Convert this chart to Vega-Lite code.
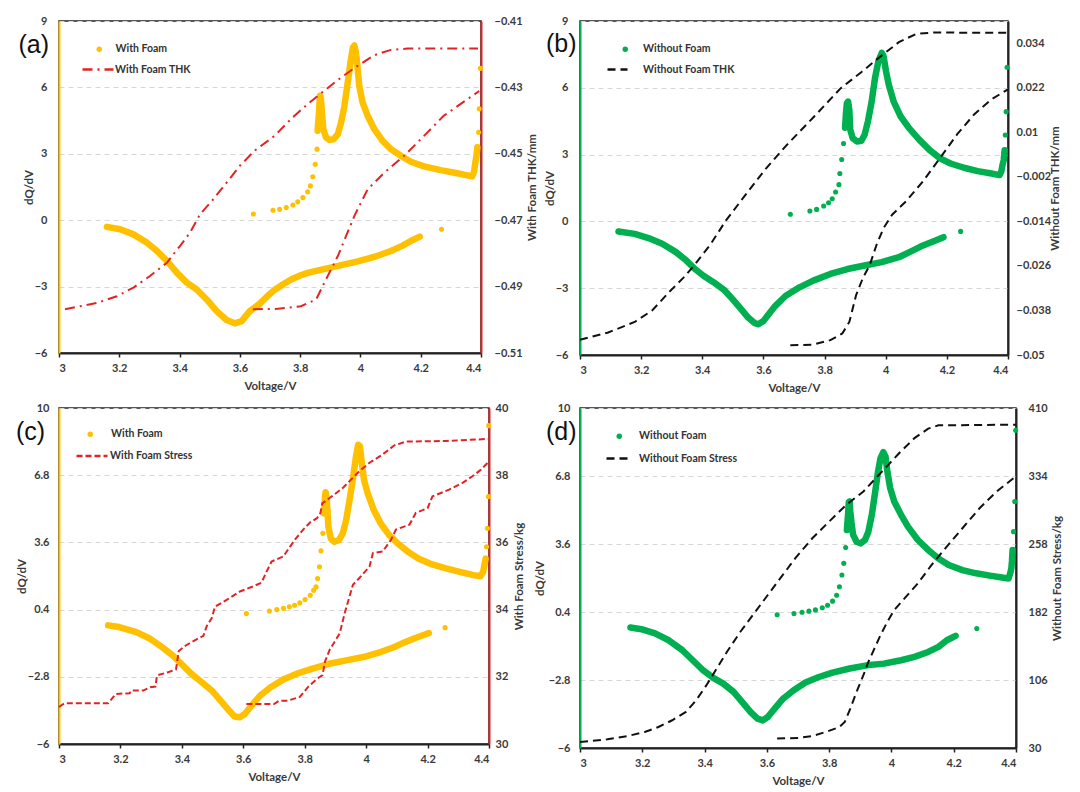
{
"$schema": "https://vega.github.io/schema/vega-lite/v6.json",
"padding": {"left": 15, "top": 14, "right": 5, "bottom": 5},
"background": "white",
"config": {
  "font": "Lato",
  "view": {"stroke": "#222", "strokeWidth": 1.5},
  "axis": {"labelFont": "Lato", "labelFontWeight": "bold", "labelFontSize": 11, "labelColor": "#3a3a3a", "titleFont": "Lato", "titleFontWeight": "bold", "titleFontSize": 11.5, "titleColor": "#3a3a3a", "ticks": false, "domainWidth": 2, "gridDash": [5, 4], "gridColor": "#d6d6d6", "gridWidth": 1},
  "legend": {"labelFont": "Lato", "labelFontWeight": "bold", "labelFontSize": 10.5, "labelColor": "#333", "padding": 0, "title": null},
  "title": {"font": "Liberation Sans", "fontSize": 25, "fontWeight": "normal", "color": "#111", "anchor": "start", "frame": "group", "orient": "top", "offset": 0, "baseline": "middle"}
},
"datasets": {
  "wfA": [
    {"V":3.645,"q":0.28,"br":"sparse"},{"V":3.71,"q":0.45,"br":"sparse"},{"V":3.732,"q":0.49,"br":"sparse"},{"V":3.754,"q":0.57,"br":"sparse"},{"V":3.776,"q":0.69,"br":"sparse"},{"V":3.792,"q":0.83,"br":"sparse"},{"V":3.809,"q":1.02,"br":"sparse"},{"V":3.825,"q":1.28,"br":"sparse"},{"V":3.834,"q":1.55,"br":"sparse"},{"V":3.842,"q":1.96,"br":"sparse"},{"V":3.85,"q":2.53,"br":"sparse"},{"V":3.856,"q":3.21,"br":"sparse"},
    {"V":3.858,"q":4.04,"br":"c"},{"V":3.862,"q":4.75,"br":"c"},{"V":3.864,"q":5.25,"br":"c"},{"V":3.866,"q":5.62,"br":"c"},{"V":3.869,"q":5.47,"br":"c"},{"V":3.873,"q":4.72,"br":"c"},{"V":3.877,"q":4.11,"br":"c"},{"V":3.886,"q":3.74,"br":"c"},{"V":3.897,"q":3.63,"br":"c"},{"V":3.911,"q":3.66,"br":"c"},{"V":3.925,"q":3.89,"br":"c"},{"V":3.936,"q":4.42,"br":"c"},{"V":3.947,"q":5.17,"br":"c"},{"V":3.958,"q":6.23,"br":"c"},{"V":3.967,"q":7.13,"br":"c"},{"V":3.975,"q":7.81,"br":"c"},{"V":3.98,"q":7.89,"br":"c"},{"V":3.985,"q":7.58,"br":"c"},{"V":3.991,"q":6.83,"br":"c"},{"V":3.996,"q":6.08,"br":"c"},{"V":4.007,"q":5.32,"br":"c"},{"V":4.024,"q":4.72,"br":"c"},{"V":4.046,"q":4.11,"br":"c"},{"V":4.073,"q":3.59,"br":"c"},{"V":4.101,"q":3.21,"br":"c"},{"V":4.134,"q":2.91,"br":"c"},{"V":4.167,"q":2.64,"br":"c"},{"V":4.211,"q":2.43,"br":"c"},{"V":4.266,"q":2.26,"br":"c"},{"V":4.321,"q":2.12,"br":"c"},{"V":4.371,"q":1.98,"br":"c"},{"V":4.377,"q":2.2,"br":"c"},{"V":4.381,"q":2.58,"br":"c"},{"V":4.385,"q":2.9,"br":"c"},{"V":4.388,"q":3.3,"br":"c"},
    {"V":4.392,"q":3.97,"br":"sparse"},{"V":4.394,"q":5.03,"br":"sparse"},{"V":4.398,"q":6.86,"br":"sparse"},
    {"V":3.159,"q":-0.3,"br":"d"},{"V":3.203,"q":-0.41,"br":"d"},{"V":3.247,"q":-0.64,"br":"d"},{"V":3.291,"q":-1.01,"br":"d"},{"V":3.325,"q":-1.39,"br":"d"},{"V":3.358,"q":-1.84,"br":"d"},{"V":3.391,"q":-2.37,"br":"d"},{"V":3.424,"q":-2.82,"br":"d"},{"V":3.457,"q":-3.13,"br":"d"},{"V":3.49,"q":-3.58,"br":"d"},{"V":3.523,"q":-4.11,"br":"d"},{"V":3.556,"q":-4.51,"br":"d"},{"V":3.583,"q":-4.66,"br":"d"},{"V":3.606,"q":-4.56,"br":"d"},{"V":3.633,"q":-4.11,"br":"d"},{"V":3.665,"q":-3.78,"br":"d"},{"V":3.69,"q":-3.45,"br":"d"},{"V":3.715,"q":-3.15,"br":"d"},{"V":3.745,"q":-2.88,"br":"d"},{"V":3.77,"q":-2.68,"br":"d"},{"V":3.8,"q":-2.5,"br":"d"},{"V":3.825,"q":-2.38,"br":"d"},{"V":3.86,"q":-2.27,"br":"d"},{"V":3.897,"q":-2.15,"br":"d"},{"V":3.94,"q":-2.02,"br":"d"},{"V":3.991,"q":-1.86,"br":"d"},{"V":4.05,"q":-1.64,"br":"d"},{"V":4.101,"q":-1.39,"br":"d"},{"V":4.14,"q":-1.15,"br":"d"},{"V":4.167,"q":-0.94,"br":"d"},{"V":4.197,"q":-0.74,"br":"d"},
    {"V":4.269,"q":-0.41,"br":"sparse"}
  ],
  "thkA": [
    {"V":3.02,"t":-0.4968,"seg":"up"},{"V":3.082,"t":-0.4957,"seg":"up"},{"V":3.126,"t":-0.4949,"seg":"up"},{"V":3.192,"t":-0.4929,"seg":"up"},{"V":3.247,"t":-0.4903,"seg":"up"},{"V":3.302,"t":-0.4868,"seg":"up"},{"V":3.358,"t":-0.4828,"seg":"up"},{"V":3.402,"t":-0.4777,"seg":"up"},{"V":3.435,"t":-0.4737,"seg":"up"},{"V":3.468,"t":-0.4682,"seg":"up"},{"V":3.512,"t":-0.4637,"seg":"up"},{"V":3.556,"t":-0.4587,"seg":"up"},{"V":3.6,"t":-0.4536,"seg":"up"},{"V":3.65,"t":-0.449,"seg":"up"},{"V":3.715,"t":-0.4446,"seg":"up"},{"V":3.77,"t":-0.4395,"seg":"up"},{"V":3.825,"t":-0.435,"seg":"up"},{"V":3.88,"t":-0.431,"seg":"up"},{"V":3.936,"t":-0.427,"seg":"up"},{"V":3.991,"t":-0.4235,"seg":"up"},{"V":4.046,"t":-0.4203,"seg":"up"},{"V":4.101,"t":-0.4187,"seg":"up"},{"V":4.156,"t":-0.4183,"seg":"up"},{"V":4.39,"t":-0.4183,"seg":"up"},
    {"V":3.643,"t":-0.4968,"seg":"down"},{"V":3.726,"t":-0.4967,"seg":"down"},{"V":3.803,"t":-0.4959,"seg":"down"},{"V":3.853,"t":-0.4939,"seg":"down"},{"V":3.886,"t":-0.4878,"seg":"down"},{"V":3.925,"t":-0.4808,"seg":"down"},{"V":3.98,"t":-0.4687,"seg":"down"},{"V":4.024,"t":-0.4607,"seg":"down"},{"V":4.079,"t":-0.4557,"seg":"down"},{"V":4.145,"t":-0.4506,"seg":"down"},{"V":4.211,"t":-0.4446,"seg":"down"},{"V":4.277,"t":-0.4385,"seg":"down"},{"V":4.394,"t":-0.4311,"seg":"down"}
  ],
  "wofB": [
    {"V":3.688,"q":0.32,"br":"sparse"},{"V":3.752,"q":0.47,"br":"sparse"},{"V":3.774,"q":0.54,"br":"sparse"},{"V":3.797,"q":0.69,"br":"sparse"},{"V":3.813,"q":0.84,"br":"sparse"},{"V":3.825,"q":1.02,"br":"sparse"},{"V":3.836,"q":1.32,"br":"sparse"},{"V":3.847,"q":1.65,"br":"sparse"},{"V":3.85,"q":2.15,"br":"sparse"},{"V":3.856,"q":2.78,"br":"sparse"},{"V":3.862,"q":3.5,"br":"sparse"},
    {"V":3.867,"q":4.21,"br":"c"},{"V":3.87,"q":4.86,"br":"c"},{"V":3.873,"q":5.31,"br":"c"},{"V":3.877,"q":5.38,"br":"c"},{"V":3.881,"q":5.0,"br":"c"},{"V":3.884,"q":4.12,"br":"c"},{"V":3.892,"q":3.74,"br":"c"},{"V":3.906,"q":3.59,"br":"c"},{"V":3.92,"q":3.62,"br":"c"},{"V":3.931,"q":3.89,"br":"c"},{"V":3.942,"q":4.5,"br":"c"},{"V":3.954,"q":5.38,"br":"c"},{"V":3.965,"q":6.44,"br":"c"},{"V":3.976,"q":7.19,"br":"c"},{"V":3.987,"q":7.57,"br":"c"},{"V":3.993,"q":7.42,"br":"c"},{"V":4.001,"q":6.74,"br":"c"},{"V":4.01,"q":6.14,"br":"c"},{"V":4.026,"q":5.38,"br":"c"},{"V":4.049,"q":4.71,"br":"c"},{"V":4.077,"q":4.18,"br":"c"},{"V":4.111,"q":3.65,"br":"c"},{"V":4.144,"q":3.2,"br":"c"},{"V":4.178,"q":2.83,"br":"c"},{"V":4.212,"q":2.6,"br":"c"},{"V":4.256,"q":2.41,"br":"c"},{"V":4.301,"q":2.26,"br":"c"},{"V":4.346,"q":2.15,"br":"c"},{"V":4.372,"q":2.08,"br":"c"},{"V":4.378,"q":2.23,"br":"c"},{"V":4.382,"q":2.53,"br":"c"},{"V":4.386,"q":2.75,"br":"c"},{"V":4.389,"q":3.2,"br":"c"},
    {"V":4.391,"q":3.88,"br":"sparse"},{"V":4.394,"q":4.93,"br":"sparse"},{"V":4.397,"q":6.92,"br":"sparse"},
    {"V":3.126,"q":-0.45,"br":"d"},{"V":3.179,"q":-0.56,"br":"d"},{"V":3.224,"q":-0.75,"br":"d"},{"V":3.269,"q":-1.0,"br":"d"},{"V":3.314,"q":-1.38,"br":"d"},{"V":3.348,"q":-1.76,"br":"d"},{"V":3.376,"q":-2.14,"br":"d"},{"V":3.404,"q":-2.44,"br":"d"},{"V":3.438,"q":-2.74,"br":"d"},{"V":3.471,"q":-3.07,"br":"d"},{"V":3.499,"q":-3.49,"br":"d"},{"V":3.527,"q":-3.94,"br":"d"},{"V":3.55,"q":-4.32,"br":"d"},{"V":3.572,"q":-4.57,"br":"d"},{"V":3.583,"q":-4.62,"br":"d"},{"V":3.6,"q":-4.47,"br":"d"},{"V":3.617,"q":-4.17,"br":"d"},{"V":3.639,"q":-3.79,"br":"d"},{"V":3.673,"q":-3.34,"br":"d"},{"V":3.718,"q":-2.96,"br":"d"},{"V":3.763,"q":-2.66,"br":"d"},{"V":3.819,"q":-2.36,"br":"d"},{"V":3.875,"q":-2.14,"br":"d"},{"V":3.931,"q":-1.98,"br":"d"},{"V":3.987,"q":-1.83,"br":"d"},{"V":4.043,"q":-1.61,"br":"d"},{"V":4.088,"q":-1.31,"br":"d"},{"V":4.122,"q":-1.08,"br":"d"},{"V":4.155,"q":-0.9,"br":"d"},{"V":4.189,"q":-0.71,"br":"d"},
    {"V":4.245,"q":-0.45,"br":"sparse"}
  ],
  "thkB": [
    {"V":3.0,"t":-0.0459,"seg":"up"},{"V":3.09,"t":-0.044,"seg":"up"},{"V":3.179,"t":-0.0411,"seg":"up"},{"V":3.236,"t":-0.038,"seg":"up"},{"V":3.292,"t":-0.033,"seg":"up"},{"V":3.337,"t":-0.0293,"seg":"up"},{"V":3.37,"t":-0.0262,"seg":"up"},{"V":3.426,"t":-0.0203,"seg":"up"},{"V":3.477,"t":-0.0138,"seg":"up"},{"V":3.538,"t":-0.0072,"seg":"up"},{"V":3.606,"t":0.0,"seg":"up"},{"V":3.673,"t":0.0063,"seg":"up"},{"V":3.763,"t":0.014,"seg":"up"},{"V":3.853,"t":0.0219,"seg":"up"},{"V":3.92,"t":0.0262,"seg":"up"},{"V":3.976,"t":0.03,"seg":"up"},{"V":4.043,"t":0.0343,"seg":"up"},{"V":4.099,"t":0.0365,"seg":"up"},{"V":4.155,"t":0.0369,"seg":"up"},{"V":4.4,"t":0.0368,"seg":"up"},
    {"V":3.688,"t":-0.0474,"seg":"down"},{"V":3.763,"t":-0.0472,"seg":"down"},{"V":3.819,"t":-0.046,"seg":"down"},{"V":3.858,"t":-0.0442,"seg":"down"},{"V":3.881,"t":-0.0411,"seg":"down"},{"V":3.903,"t":-0.0339,"seg":"down"},{"V":3.925,"t":-0.0293,"seg":"down"},{"V":3.948,"t":-0.0257,"seg":"down"},{"V":3.97,"t":-0.0203,"seg":"down"},{"V":3.993,"t":-0.0158,"seg":"down"},{"V":4.021,"t":-0.0122,"seg":"down"},{"V":4.066,"t":-0.0086,"seg":"down"},{"V":4.122,"t":-0.0032,"seg":"down"},{"V":4.178,"t":0.0031,"seg":"down"},{"V":4.234,"t":0.0095,"seg":"down"},{"V":4.29,"t":0.0149,"seg":"down"},{"V":4.346,"t":0.0189,"seg":"down"},{"V":4.4,"t":0.0216,"seg":"down"}
  ],
  "wfC": [
    {"V":3.61,"q":0.21,"br":"sparse"},{"V":3.685,"q":0.33,"br":"sparse"},{"V":3.709,"q":0.4,"br":"sparse"},{"V":3.731,"q":0.46,"br":"sparse"},{"V":3.75,"q":0.53,"br":"sparse"},{"V":3.767,"q":0.61,"br":"sparse"},{"V":3.784,"q":0.72,"br":"sparse"},{"V":3.801,"q":0.88,"br":"sparse"},{"V":3.818,"q":1.08,"br":"sparse"},{"V":3.829,"q":1.32,"br":"sparse"},{"V":3.837,"q":1.48,"br":"sparse"},{"V":3.842,"q":1.88,"br":"sparse"},{"V":3.848,"q":2.44,"br":"sparse"},{"V":3.853,"q":3.2,"br":"sparse"},{"V":3.859,"q":4.03,"br":"sparse"},
    {"V":3.863,"q":4.98,"br":"c"},{"V":3.866,"q":5.78,"br":"c"},{"V":3.868,"q":5.99,"br":"c"},{"V":3.871,"q":5.78,"br":"c"},{"V":3.874,"q":5.14,"br":"c"},{"V":3.877,"q":4.35,"br":"c"},{"V":3.885,"q":3.79,"br":"c"},{"V":3.896,"q":3.63,"br":"c"},{"V":3.911,"q":3.71,"br":"c"},{"V":3.924,"q":4.03,"br":"c"},{"V":3.935,"q":4.67,"br":"c"},{"V":3.946,"q":5.62,"br":"c"},{"V":3.958,"q":6.74,"br":"c"},{"V":3.967,"q":7.69,"br":"c"},{"V":3.974,"q":8.25,"br":"c"},{"V":3.98,"q":8.17,"br":"c"},{"V":3.986,"q":7.37,"br":"c"},{"V":3.993,"q":6.58,"br":"c"},{"V":4.005,"q":5.94,"br":"c"},{"V":4.025,"q":5.14,"br":"c"},{"V":4.047,"q":4.51,"br":"c"},{"V":4.075,"q":3.95,"br":"c"},{"V":4.103,"q":3.55,"br":"c"},{"V":4.137,"q":3.15,"br":"c"},{"V":4.17,"q":2.83,"br":"c"},{"V":4.215,"q":2.55,"br":"c"},{"V":4.26,"q":2.36,"br":"c"},{"V":4.305,"q":2.2,"br":"c"},{"V":4.35,"q":2.04,"br":"c"},{"V":4.372,"q":1.99,"br":"c"},{"V":4.381,"q":2.2,"br":"c"},{"V":4.385,"q":2.52,"br":"c"},{"V":4.389,"q":2.83,"br":"c"},
    {"V":4.392,"q":3.39,"br":"sparse"},{"V":4.395,"q":4.27,"br":"sparse"},{"V":4.398,"q":5.78,"br":"sparse"},{"V":4.399,"q":9.16,"br":"sparse"},
    {"V":3.16,"q":-0.35,"br":"d"},{"V":3.196,"q":-0.43,"br":"d"},{"V":3.252,"q":-0.67,"br":"d"},{"V":3.297,"q":-0.99,"br":"d"},{"V":3.336,"q":-1.39,"br":"d"},{"V":3.37,"q":-1.78,"br":"d"},{"V":3.398,"q":-2.18,"br":"d"},{"V":3.431,"q":-2.66,"br":"d"},{"V":3.465,"q":-3.06,"br":"d"},{"V":3.498,"q":-3.46,"br":"d"},{"V":3.526,"q":-3.93,"br":"d"},{"V":3.549,"q":-4.33,"br":"d"},{"V":3.571,"q":-4.68,"br":"d"},{"V":3.588,"q":-4.73,"br":"d"},{"V":3.605,"q":-4.57,"br":"d"},{"V":3.627,"q":-4.17,"br":"d"},{"V":3.655,"q":-3.69,"br":"d"},{"V":3.689,"q":-3.3,"br":"d"},{"V":3.734,"q":-2.9,"br":"d"},{"V":3.778,"q":-2.63,"br":"d"},{"V":3.823,"q":-2.42,"br":"d"},{"V":3.879,"q":-2.18,"br":"d"},{"V":3.935,"q":-2.02,"br":"d"},{"V":3.991,"q":-1.86,"br":"d"},{"V":4.047,"q":-1.62,"br":"d"},{"V":4.092,"q":-1.38,"br":"d"},{"V":4.126,"q":-1.15,"br":"d"},{"V":4.16,"q":-0.95,"br":"d"},{"V":4.185,"q":-0.82,"br":"d"},{"V":4.204,"q":-0.72,"br":"d"},
    {"V":4.257,"q":-0.46,"br":"sparse"}
  ],
  "stC": [
    {"V":3.0,"s":31.1,"seg":"up"},{"V":3.017,"s":31.21,"seg":"up"},{"V":3.16,"s":31.21,"seg":"up"},{"V":3.185,"s":31.49,"seg":"up"},{"V":3.23,"s":31.51,"seg":"up"},{"V":3.235,"s":31.59,"seg":"up"},{"V":3.274,"s":31.59,"seg":"up"},{"V":3.297,"s":31.69,"seg":"up"},{"V":3.314,"s":31.71,"seg":"up"},{"V":3.319,"s":32.04,"seg":"up"},{"V":3.353,"s":32.13,"seg":"up"},{"V":3.381,"s":32.22,"seg":"up"},{"V":3.39,"s":32.77,"seg":"up"},{"V":3.414,"s":32.94,"seg":"up"},{"V":3.445,"s":33.1,"seg":"up"},{"V":3.47,"s":33.22,"seg":"up"},{"V":3.481,"s":33.51,"seg":"up"},{"V":3.497,"s":33.74,"seg":"up"},{"V":3.508,"s":34.09,"seg":"up"},{"V":3.546,"s":34.29,"seg":"up"},{"V":3.589,"s":34.54,"seg":"up"},{"V":3.632,"s":34.69,"seg":"up"},{"V":3.659,"s":34.8,"seg":"up"},{"V":3.676,"s":35.13,"seg":"up"},{"V":3.692,"s":35.43,"seg":"up"},{"V":3.73,"s":35.58,"seg":"up"},{"V":3.768,"s":36.08,"seg":"up"},{"V":3.795,"s":36.38,"seg":"up"},{"V":3.818,"s":36.6,"seg":"up"},{"V":3.84,"s":36.72,"seg":"up"},{"V":3.851,"s":36.87,"seg":"up"},{"V":3.857,"s":37.16,"seg":"up"},{"V":3.881,"s":37.32,"seg":"up"},{"V":3.924,"s":37.62,"seg":"up"},{"V":3.978,"s":38.12,"seg":"up"},{"V":4.011,"s":38.37,"seg":"up"},{"V":4.054,"s":38.62,"seg":"up"},{"V":4.092,"s":38.89,"seg":"up"},{"V":4.13,"s":39.0,"seg":"up"},{"V":4.26,"s":39.02,"seg":"up"},{"V":4.4,"s":39.08,"seg":"up"},
    {"V":3.61,"s":31.19,"seg":"down"},{"V":3.7,"s":31.19,"seg":"down"},{"V":3.717,"s":31.29,"seg":"down"},{"V":3.745,"s":31.29,"seg":"down"},{"V":3.784,"s":31.4,"seg":"down"},{"V":3.811,"s":31.7,"seg":"down"},{"V":3.84,"s":31.94,"seg":"down"},{"V":3.858,"s":32.05,"seg":"down"},{"V":3.866,"s":32.45,"seg":"down"},{"V":3.881,"s":32.8,"seg":"down"},{"V":3.914,"s":33.29,"seg":"down"},{"V":3.93,"s":33.89,"seg":"down"},{"V":3.957,"s":34.74,"seg":"down"},{"V":3.978,"s":34.94,"seg":"down"},{"V":4.011,"s":35.28,"seg":"down"},{"V":4.022,"s":35.68,"seg":"down"},{"V":4.054,"s":35.73,"seg":"down"},{"V":4.081,"s":36.08,"seg":"down"},{"V":4.097,"s":36.38,"seg":"down"},{"V":4.141,"s":36.53,"seg":"down"},{"V":4.162,"s":36.88,"seg":"down"},{"V":4.2,"s":37.02,"seg":"down"},{"V":4.216,"s":37.37,"seg":"down"},{"V":4.27,"s":37.57,"seg":"down"},{"V":4.314,"s":37.77,"seg":"down"},{"V":4.346,"s":37.97,"seg":"down"},{"V":4.372,"s":38.15,"seg":"down"},{"V":4.4,"s":38.41,"seg":"down"}
  ],
  "wofD": [
    {"V":3.633,"q":0.27,"br":"sparse"},{"V":3.687,"q":0.33,"br":"sparse"},{"V":3.713,"q":0.39,"br":"sparse"},{"V":3.735,"q":0.44,"br":"sparse"},{"V":3.756,"q":0.5,"br":"sparse"},{"V":3.778,"q":0.6,"br":"sparse"},{"V":3.795,"q":0.72,"br":"sparse"},{"V":3.811,"q":0.91,"br":"sparse"},{"V":3.824,"q":1.19,"br":"sparse"},{"V":3.833,"q":1.59,"br":"sparse"},{"V":3.841,"q":2.14,"br":"sparse"},{"V":3.847,"q":2.69,"br":"sparse"},{"V":3.853,"q":3.43,"br":"sparse"},
    {"V":3.857,"q":4.26,"br":"c"},{"V":3.861,"q":5.05,"br":"c"},{"V":3.863,"q":5.57,"br":"c"},{"V":3.866,"q":5.6,"br":"c"},{"V":3.868,"q":5.13,"br":"c"},{"V":3.872,"q":4.58,"br":"c"},{"V":3.877,"q":4.03,"br":"c"},{"V":3.888,"q":3.71,"br":"c"},{"V":3.901,"q":3.63,"br":"c"},{"V":3.915,"q":3.79,"br":"c"},{"V":3.926,"q":4.18,"br":"c"},{"V":3.937,"q":4.97,"br":"c"},{"V":3.948,"q":6.07,"br":"c"},{"V":3.957,"q":7.01,"br":"c"},{"V":3.965,"q":7.64,"br":"c"},{"V":3.974,"q":7.92,"br":"c"},{"V":3.981,"q":7.72,"br":"c"},{"V":3.987,"q":7.01,"br":"c"},{"V":3.996,"q":6.23,"br":"c"},{"V":4.009,"q":5.6,"br":"c"},{"V":4.031,"q":4.97,"br":"c"},{"V":4.053,"q":4.42,"br":"c"},{"V":4.085,"q":3.79,"br":"c"},{"V":4.118,"q":3.32,"br":"c"},{"V":4.151,"q":2.92,"br":"c"},{"V":4.184,"q":2.61,"br":"c"},{"V":4.228,"q":2.37,"br":"c"},{"V":4.272,"q":2.22,"br":"c"},{"V":4.316,"q":2.11,"br":"c"},{"V":4.36,"q":2.01,"br":"c"},{"V":4.376,"q":1.98,"br":"c"},{"V":4.381,"q":2.2,"br":"c"},{"V":4.385,"q":2.45,"br":"c"},{"V":4.387,"q":2.8,"br":"c"},{"V":4.389,"q":3.32,"br":"c"},
    {"V":4.392,"q":4.18,"br":"sparse"},{"V":4.396,"q":5.6,"br":"sparse"},{"V":4.399,"q":8.95,"br":"sparse"},
    {"V":3.162,"q":-0.33,"br":"d"},{"V":3.197,"q":-0.41,"br":"d"},{"V":3.241,"q":-0.61,"br":"d"},{"V":3.285,"q":-0.93,"br":"d"},{"V":3.329,"q":-1.4,"br":"d"},{"V":3.362,"q":-1.87,"br":"d"},{"V":3.395,"q":-2.34,"br":"d"},{"V":3.428,"q":-2.7,"br":"d"},{"V":3.46,"q":-2.97,"br":"d"},{"V":3.493,"q":-3.36,"br":"d"},{"V":3.521,"q":-3.84,"br":"d"},{"V":3.548,"q":-4.31,"br":"d"},{"V":3.57,"q":-4.62,"br":"d"},{"V":3.587,"q":-4.7,"br":"d"},{"V":3.603,"q":-4.54,"br":"d"},{"V":3.625,"q":-4.15,"br":"d"},{"V":3.652,"q":-3.68,"br":"d"},{"V":3.685,"q":-3.29,"br":"d"},{"V":3.724,"q":-2.92,"br":"d"},{"V":3.767,"q":-2.66,"br":"d"},{"V":3.811,"q":-2.45,"br":"d"},{"V":3.866,"q":-2.26,"br":"d"},{"V":3.921,"q":-2.11,"br":"d"},{"V":3.976,"q":-2.03,"br":"d"},{"V":4.031,"q":-1.87,"br":"d"},{"V":4.074,"q":-1.71,"br":"d"},{"V":4.118,"q":-1.48,"br":"d"},{"V":4.151,"q":-1.24,"br":"d"},{"V":4.178,"q":-0.93,"br":"d"},{"V":4.206,"q":-0.72,"br":"d"},
    {"V":4.274,"q":-0.38,"br":"sparse"}
  ],
  "stD": [
    {"V":3.0,"s":36.7,"seg":"up"},{"V":3.088,"s":39.7,"seg":"up"},{"V":3.153,"s":43.4,"seg":"up"},{"V":3.208,"s":47.9,"seg":"up"},{"V":3.252,"s":53.5,"seg":"up"},{"V":3.296,"s":61.0,"seg":"up"},{"V":3.34,"s":70.3,"seg":"up"},{"V":3.373,"s":83.4,"seg":"up"},{"V":3.406,"s":100.2,"seg":"up"},{"V":3.439,"s":118.8,"seg":"up"},{"V":3.472,"s":137.5,"seg":"up"},{"V":3.515,"s":159.9,"seg":"up"},{"V":3.559,"s":180.4,"seg":"up"},{"V":3.603,"s":201.0,"seg":"up"},{"V":3.647,"s":221.5,"seg":"up"},{"V":3.691,"s":242.0,"seg":"up"},{"V":3.746,"s":264.4,"seg":"up"},{"V":3.8,"s":283.1,"seg":"up"},{"V":3.855,"s":301.8,"seg":"up"},{"V":3.91,"s":316.7,"seg":"up"},{"V":3.965,"s":337.2,"seg":"up"},{"V":4.02,"s":357.8,"seg":"up"},{"V":4.074,"s":376.4,"seg":"up"},{"V":4.118,"s":386.9,"seg":"up"},{"V":4.151,"s":390.6,"seg":"up"},{"V":4.4,"s":391.4,"seg":"up"},
    {"V":3.633,"s":40.5,"seg":"down"},{"V":3.702,"s":41.2,"seg":"down"},{"V":3.746,"s":43.4,"seg":"down"},{"V":3.789,"s":47.9,"seg":"down"},{"V":3.833,"s":53.5,"seg":"down"},{"V":3.85,"s":59.1,"seg":"down"},{"V":3.866,"s":72.2,"seg":"down"},{"V":3.888,"s":92.7,"seg":"down"},{"V":3.91,"s":111.4,"seg":"down"},{"V":3.926,"s":126.3,"seg":"down"},{"V":3.948,"s":143.1,"seg":"down"},{"V":3.965,"s":156.2,"seg":"down"},{"V":3.987,"s":171.1,"seg":"down"},{"V":4.009,"s":184.2,"seg":"down"},{"V":4.042,"s":197.2,"seg":"down"},{"V":4.085,"s":214.0,"seg":"down"},{"V":4.129,"s":234.6,"seg":"down"},{"V":4.173,"s":253.2,"seg":"down"},{"V":4.228,"s":275.6,"seg":"down"},{"V":4.283,"s":298.0,"seg":"down"},{"V":4.338,"s":316.7,"seg":"down"},{"V":4.392,"s":331.6,"seg":"down"}
  ]
},
"bounds": "flush",
"columns": 2,
"spacing": {"row": 53, "column": 91},
"concat": [
  {"width": 422, "height": 332,
   "title": {"text": "(a)", "dx": -40.5, "dy": 47},
   "encoding": {"x": {"field": "V", "type": "quantitative", "scale": {"domain": [3, 4.4], "nice": false, "zero": false}, "axis": {"title": "Voltage/V", "values": [3, 3.2, 3.4, 3.6, 3.8, 4, 4.2, 4.4], "format": ".1~f", "grid": false, "ticks": true, "tickSize": 4, "tickColor": "#222", "tickWidth": 1.5, "domainColor": "#222", "labelPadding": 5, "titlePadding": 7}}},
   "layer": [
    {"encoding": {"y": {"field": "q", "type": "quantitative", "scale": {"domain": [-6, 9], "nice": false, "zero": false}, "axis": {"title": "dQ/dV", "values": [-6, -3, 0, 3, 6, 9], "grid": true, "domainColor": "#FFC000", "labelPadding": 12, "titlePadding": 0}}},
     "layer": [
      {"data": {"name": "wfA"}, "transform": [{"filter": "datum.br != 'sparse'"}], "mark": {"type": "line", "color": "#FFC000", "strokeWidth": 6.5, "strokeCap": "round", "strokeJoin": "round"}, "encoding": {"detail": {"field": "br"}}},
      {"data": {"name": "wfA"}, "mark": {"type": "point", "filled": true, "opacity": 1, "size": 26}, "encoding": {"color": {"datum": "With Foam", "scale": {"range": ["#FFC000"]}, "legend": {"orient": "none", "legendX": 35, "legendY": 23, "symbolType": "circle", "symbolSize": 30, "labelOffset": 11}}}}
     ]},
    {"data": {"name": "thkA"}, "mark": {"type": "line", "color": "#E02424", "strokeWidth": 2, "strokeDash": [10, 5, 2, 5]},
     "encoding": {"y": {"field": "t", "type": "quantitative", "scale": {"domain": [-0.51, -0.41], "nice": false, "zero": false}, "axis": {"orient": "right", "title": "With Foam THK/mm", "values": [-0.51, -0.49, -0.47, -0.45, -0.43, -0.41], "format": ".2f", "grid": false, "domainColor": "#E02424", "labelPadding": 13, "titlePadding": 15, "titleAngle": 270}}, "detail": {"field": "seg"},
      "color": {"datum": "With Foam THK", "scale": {"range": ["#E02424"]}, "legend": {"orient": "none", "legendX": 22, "legendY": 31.5, "symbolType": "stroke", "symbolSize": 961, "symbolStrokeWidth": 2.5, "symbolDash": [10, 5, 2, 5], "labelOffset": 0}}}}
   ],
   "resolve": {"scale": {"y": "independent", "color": "independent"}}},
  {"width": 428, "height": 334,
   "title": {"text": "(b)", "dx": -34, "dy": 46},
   "encoding": {"x": {"field": "V", "type": "quantitative", "scale": {"domain": [3, 4.4], "nice": false, "zero": false}, "axis": {"title": "Voltage/V", "values": [3, 3.2, 3.4, 3.6, 3.8, 4, 4.2, 4.4], "format": ".1~f", "grid": false, "ticks": true, "tickSize": 4, "tickColor": "#222", "tickWidth": 1.5, "domainColor": "#222", "labelPadding": 5, "titlePadding": 7}}},
   "layer": [
    {"encoding": {"y": {"field": "q", "type": "quantitative", "scale": {"domain": [-6, 9], "nice": false, "zero": false}, "axis": {"title": "dQ/dV", "values": [-6, -3, 0, 3, 6, 9], "grid": true, "domainColor": "#00B050", "labelPadding": 12, "titlePadding": 0}}},
     "layer": [
      {"data": {"name": "wofB"}, "transform": [{"filter": "datum.br != 'sparse'"}], "mark": {"type": "line", "color": "#00B050", "strokeWidth": 6.5, "strokeCap": "round", "strokeJoin": "round"}, "encoding": {"detail": {"field": "br"}}},
      {"data": {"name": "wofB"}, "mark": {"type": "point", "filled": true, "opacity": 1, "size": 26}, "encoding": {"color": {"datum": "Without Foam", "scale": {"range": ["#00B050"]}, "legend": {"orient": "none", "legendX": 40, "legendY": 23, "symbolType": "circle", "symbolSize": 30, "labelOffset": 12.5}}}}
     ]},
    {"data": {"name": "thkB"}, "mark": {"type": "line", "color": "#111", "strokeWidth": 2, "strokeDash": [8, 5]},
     "encoding": {"y": {"field": "t", "type": "quantitative", "scale": {"domain": [-0.05, 0.04], "nice": false, "zero": false}, "axis": {"orient": "right", "title": "Without Foam THK/mm", "values": [-0.05, -0.038, -0.026, -0.014, -0.002, 0.01, 0.022, 0.034], "format": ".3~f", "grid": false, "domainColor": "#222", "labelPadding": 8, "titlePadding": 10, "titleAngle": 270}}, "detail": {"field": "seg"},
      "color": {"datum": "Without Foam THK", "scale": {"range": ["#111"]}, "legend": {"orient": "none", "legendX": 26, "legendY": 37, "symbolType": "stroke", "symbolSize": 400, "symbolStrokeWidth": 2.5, "symbolDash": [8, 5], "labelOffset": 14}}}}
   ],
   "resolve": {"scale": {"y": "independent", "color": "independent"}}},
  {"width": 430, "height": 336,
   "title": {"text": "(c)", "dx": -43, "dy": 47},
   "encoding": {"x": {"field": "V", "type": "quantitative", "scale": {"domain": [3, 4.4], "nice": false, "zero": false}, "axis": {"title": "Voltage/V", "values": [3, 3.2, 3.4, 3.6, 3.8, 4, 4.2, 4.4], "format": ".1~f", "grid": false, "ticks": true, "tickSize": 4, "tickColor": "#222", "tickWidth": 1.5, "domainColor": "#222", "labelPadding": 5, "titlePadding": 7}}},
   "layer": [
    {"encoding": {"y": {"field": "q", "type": "quantitative", "scale": {"domain": [-6, 10], "nice": false, "zero": false}, "axis": {"title": "dQ/dV", "values": [-6, -2.8, 0.4, 3.6, 6.8, 10], "format": ".1~f", "grid": true, "domainColor": "#FFC000", "labelPadding": 10, "titlePadding": 0}}},
     "layer": [
      {"data": {"name": "wfC"}, "transform": [{"filter": "datum.br != 'sparse'"}], "mark": {"type": "line", "color": "#FFC000", "strokeWidth": 6.5, "strokeCap": "round", "strokeJoin": "round"}, "encoding": {"detail": {"field": "br"}}},
      {"data": {"name": "wfC"}, "mark": {"type": "point", "filled": true, "opacity": 1, "size": 26}, "encoding": {"color": {"datum": "With Foam", "scale": {"range": ["#FFC000"]}, "legend": {"orient": "none", "legendX": 26, "legendY": 21, "symbolType": "circle", "symbolSize": 30, "labelOffset": 15.5}}}}
     ]},
    {"data": {"name": "stC"}, "mark": {"type": "line", "color": "#E02424", "strokeWidth": 2, "strokeDash": [6, 3]},
     "encoding": {"y": {"field": "s", "type": "quantitative", "scale": {"domain": [30, 40], "nice": false, "zero": false}, "axis": {"orient": "right", "title": "With Foam Stress/kg", "values": [30, 32, 34, 36, 38, 40], "format": "d", "grid": false, "domainColor": "#E02424", "labelPadding": 6, "titlePadding": 17, "titleAngle": 270}}, "detail": {"field": "seg"},
      "color": {"datum": "With Foam Stress", "scale": {"range": ["#E02424"]}, "legend": {"orient": "none", "legendX": 16, "legendY": 31, "symbolType": "stroke", "symbolSize": 961, "symbolStrokeWidth": 2.5, "symbolDash": [6, 3], "labelOffset": 1}}}}
   ],
   "resolve": {"scale": {"y": "independent", "color": "independent"}}},
  {"width": 436, "height": 340,
   "title": {"text": "(d)", "dx": -34, "dy": 47},
   "encoding": {"x": {"field": "V", "type": "quantitative", "scale": {"domain": [3, 4.4], "nice": false, "zero": false}, "axis": {"title": "Voltage/V", "values": [3, 3.2, 3.4, 3.6, 3.8, 4, 4.2, 4.4], "format": ".1~f", "grid": false, "ticks": true, "tickSize": 4, "tickColor": "#222", "tickWidth": 1.5, "domainColor": "#222", "labelPadding": 5, "titlePadding": 7}}},
   "layer": [
    {"encoding": {"y": {"field": "q", "type": "quantitative", "scale": {"domain": [-6, 10], "nice": false, "zero": false}, "axis": {"title": "dQ/dV", "values": [-6, -2.8, 0.4, 3.6, 6.8, 10], "format": ".1~f", "grid": true, "domainColor": "#00B050", "labelPadding": 10, "titlePadding": 3}}},
     "layer": [
      {"data": {"name": "wofD"}, "transform": [{"filter": "datum.br != 'sparse'"}], "mark": {"type": "line", "color": "#00B050", "strokeWidth": 6.5, "strokeCap": "round", "strokeJoin": "round"}, "encoding": {"detail": {"field": "br"}}},
      {"data": {"name": "wofD"}, "mark": {"type": "point", "filled": true, "opacity": 1, "size": 26}, "encoding": {"color": {"datum": "Without Foam", "scale": {"range": ["#00B050"]}, "legend": {"orient": "none", "legendX": 34, "legendY": 23, "symbolType": "circle", "symbolSize": 30, "labelOffset": 14.5}}}}
     ]},
    {"data": {"name": "stD"}, "mark": {"type": "line", "color": "#111", "strokeWidth": 2, "strokeDash": [8, 5]},
     "encoding": {"y": {"field": "s", "type": "quantitative", "scale": {"domain": [30, 410], "nice": false, "zero": false}, "axis": {"orient": "right", "title": "Without Foam Stress/kg", "values": [30, 106, 182, 258, 334, 410], "format": "d", "grid": false, "domainColor": "#222", "labelPadding": 12, "titlePadding": 15, "titleAngle": 270}}, "detail": {"field": "seg"},
      "color": {"datum": "Without Foam Stress", "scale": {"range": ["#111"]}, "legend": {"orient": "none", "legendX": 25, "legendY": 37.5, "symbolType": "stroke", "symbolSize": 529, "symbolStrokeWidth": 2.5, "symbolDash": [8, 5], "labelOffset": 8}}}}
   ],
   "resolve": {"scale": {"y": "independent", "color": "independent"}}}
]
}
